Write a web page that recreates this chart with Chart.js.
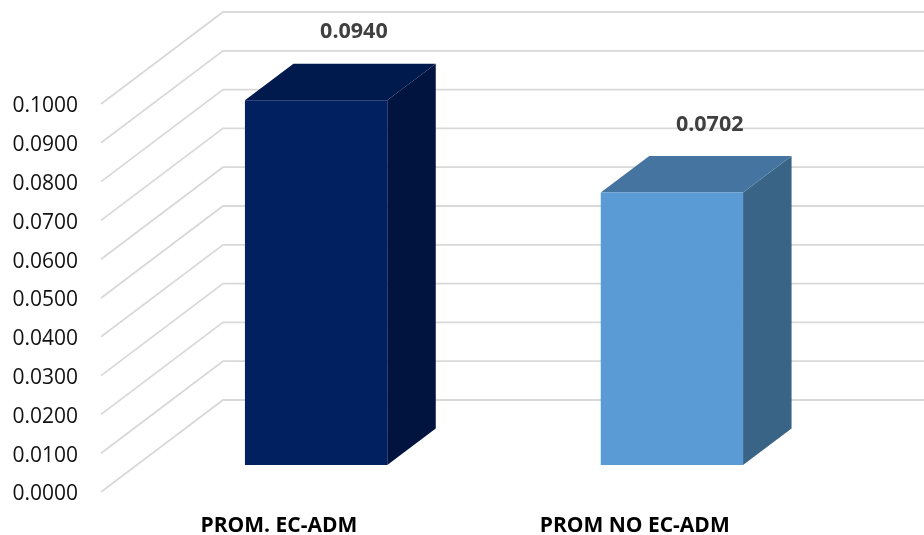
<!DOCTYPE html>
<html>
<head>
<meta charset="utf-8">
<title>Promedios</title>
<script src="https://cdn.jsdelivr.net/npm/chart.js@4"></script>
<style>
  html, body { margin: 0; padding: 0; background: #fff; }
  canvas { display: block; }
</style>
</head>
<body>
<canvas id="myChart" width="924" height="535"></canvas>
<script>
const categories = ['PROM. EC-ADM', 'PROM NO EC-ADM'];
const values = [0.0940, 0.0702];
const yTickLabels = ['0.0000', '0.0100', '0.0200', '0.0300', '0.0400', '0.0500',
                     '0.0600', '0.0700', '0.0800', '0.0900', '0.1000'];
const frontColors = ['#002060', '#5B9BD5'];
const topColors = ['#001A4D', '#44749F'];
const sideColors = ['#00143F', '#3A6486'];

const fontName = '"Open Sans", sans-serif';

// Desplazamientos de la perspectiva (pared del fondo, barra dentro del piso, fondo de la barra)
const wallDx = 122, wallDy = -92;
const barDx = 37.2, barDy = -27;
const depthDx = 48.5, depthDy = -36.5;

// Rejilla oblicua: diagonal lateral y horizontal en la pared del fondo
const wallPlugin = {
  id: 'wall',
  beforeDatasetsDraw(chart) {
    const { ctx, chartArea, scales: { y } } = chart;
    ctx.save();
    ctx.strokeStyle = '#D9D9D9';
    ctx.lineWidth = 1.8;
    y.ticks.forEach(t => {
      const py = y.getPixelForValue(t.value);
      ctx.beginPath();
      ctx.moveTo(chartArea.left, py);
      ctx.lineTo(chartArea.left + wallDx, py + wallDy);
      ctx.lineTo(chart.width, py + wallDy);
      ctx.stroke();
    });
    ctx.restore();
  }
};

// Caras superior y lateral de cada barra; la cara frontal la pinta Chart.js
const bar3dPlugin = {
  id: 'bar3d',
  beforeDatasetDraw(chart, args) {
    const ctx = chart.ctx;
    ctx.save();
    ctx.translate(barDx, barDy);
    args.meta.data.forEach((bar, i) => {
      const left = bar.x - bar.width / 2;
      const right = bar.x + bar.width / 2;

      ctx.fillStyle = sideColors[i];
      ctx.beginPath();
      ctx.moveTo(right, bar.y);
      ctx.lineTo(right + depthDx, bar.y + depthDy);
      ctx.lineTo(right + depthDx, bar.base + depthDy);
      ctx.lineTo(right, bar.base);
      ctx.closePath();
      ctx.fill();

      ctx.fillStyle = topColors[i];
      ctx.beginPath();
      ctx.moveTo(left, bar.y);
      ctx.lineTo(left + depthDx, bar.y + depthDy);
      ctx.lineTo(right + depthDx, bar.y + depthDy);
      ctx.lineTo(right, bar.y);
      ctx.closePath();
      ctx.fill();
    });
  },
  afterDatasetDraw(chart) {
    chart.ctx.restore();
  },
  afterDatasetsDraw(chart) {
    const ctx = chart.ctx;
    const meta = chart.getDatasetMeta(0);
    ctx.save();
    ctx.fillStyle = '#404040';
    ctx.font = 'bold 21.5px ' + fontName;
    ctx.textAlign = 'center';
    ctx.textBaseline = 'middle';
    meta.data.forEach((bar, i) => {
      ctx.fillText(values[i].toFixed(4), bar.x + 75, bar.y - 95);
    });
    ctx.restore();
  }
};

const ctx = document.getElementById('myChart').getContext('2d');
const myChart = new Chart(ctx, {
  type: 'bar',
  data: {
    labels: categories,
    datasets: [{
      data: values,
      backgroundColor: frontColors,
      borderWidth: 0,
      categoryPercentage: 1,
      barPercentage: 0.4
    }]
  },
  options: {
    responsive: false,
    animation: false,
    layout: { padding: { top: 104, right: 111.4, bottom: 0, left: 0 } },
    plugins: { legend: { display: false }, tooltip: { enabled: false } },
    scales: {
      x: {
        afterFit(scale) { scale.height = 43; },
        grid: { display: false, drawTicks: false },
        border: { display: false },
        ticks: {
          color: '#000',
          font: { family: fontName, size: 21, weight: 'bold' },
          padding: 21,
          maxRotation: 0,
          autoSkip: false
        }
      },
      y: {
        min: 0,
        max: 0.1,
        afterFit(scale) { scale.width = 101; },
        grid: { display: false, drawTicks: false },
        border: { display: false },
        ticks: {
          stepSize: 0.01,
          color: '#111',
          font: { family: fontName, size: 21 },
          padding: 23,
          labelOffset: 2.5,
          callback: (v, i) => yTickLabels[i]
        }
      }
    }
  },
  plugins: [wallPlugin, bar3dPlugin]
});
</script>
</body>
</html>
